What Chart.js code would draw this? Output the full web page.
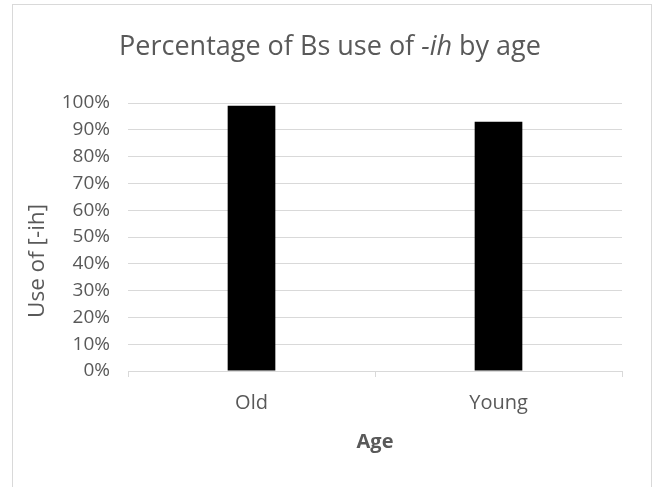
<!DOCTYPE html>
<html>
<head>
<meta charset="utf-8">
<script src="https://cdn.jsdelivr.net/npm/chart.js@4"></script>
<style>
  html, body { margin: 0; padding: 0; background: #fff; }
  #frame { position: absolute; left: 12px; top: 4px; width: 638px; height: 520px; border: 1.5px solid #d9d9d9; }
  #wrap { position: absolute; left: 0; top: 0; width: 652px; height: 487px; }
</style>
</head>
<body>
<div id="frame"></div>
<div id="wrap"><canvas id="main" width="652" height="487"></canvas></div>
<script>
const categories = ['Old', 'Young'];
const useOfIh = [99, 93];
const yTicks = [0, 10, 20, 30, 40, 50, 60, 70, 80, 90, 100];

const grey = '#595959';
const fontName = '"Open Sans", sans-serif';

// title with italic "-ih" and the rotated y title, drawn on the canvas
const textBits = {
  id: 'textBits',
  afterDraw(chart) {
    const ctx = chart.ctx;
    ctx.save();
    ctx.fillStyle = grey;
    ctx.textBaseline = 'alphabetic';
    const parts = [
      ['Percentage of Bs use of ', 'normal'],
      ['-ih', 'italic'],
      [' by age', 'normal']
    ];
    let total = 0;
    parts.forEach(p => {
      ctx.font = p[1] + ' 27px ' + fontName;
      total += ctx.measureText(p[0]).width;
    });
    let x = 330 - total / 2;
    parts.forEach(p => {
      ctx.font = p[1] + ' 27px ' + fontName;
      ctx.fillText(p[0], x, 55);
      x += ctx.measureText(p[0]).width;
    });

    ctx.translate(38, 261);
    ctx.rotate(-Math.PI / 2);
    ctx.font = '22.5px ' + fontName;
    ctx.textAlign = 'center';
    ctx.textBaseline = 'middle';
    ctx.fillText('Use of [-ih]', 0, 0);
    ctx.restore();
  }
};

new Chart(document.getElementById('main'), {
  type: 'bar',
  data: {
    labels: categories,
    datasets: [{
      label: 'Use of [-ih]',
      data: useOfIh,
      backgroundColor: '#000000',
      borderWidth: 0,
      categoryPercentage: 1,
      barPercentage: 0.193
    }]
  },
  options: {
    responsive: false,
    animation: false,
    layout: { padding: { left: 0, right: 30, top: 103, bottom: 0 } },
    plugins: {
      legend: { display: false },
      title: { display: false },
      tooltip: { enabled: false }
    },
    scales: {
      x: {
        offset: true,
        grid: {
          offset: true,
          drawOnChartArea: false,
          drawTicks: true,
          tickLength: 6,
          color: '#d9d9d9'
        },
        border: { color: '#d9d9d9', width: 1 },
        ticks: { color: grey, font: { family: fontName, size: 20 }, padding: 14 },
        title: {
          display: true,
          text: 'Age',
          color: grey,
          font: { family: fontName, size: 20, weight: 'bold' },
          padding: { top: 0, bottom: 33 }
        },
        afterFit(scale) { scale.height = 116; }
      },
      y: {
        min: 0,
        max: 100,
        afterBuildTicks(scale) { scale.ticks = yTicks.map(v => ({ value: v })); },
        grid: { color: '#d9d9d9', drawTicks: false, lineWidth: 1 },
        border: { display: false },
        ticks: {
          color: grey,
          font: { family: fontName, size: 19 },
          padding: 18,
          callback: v => v + '%'
        },
        afterFit(scale) { scale.width = 128; }
      }
    }
  },
  plugins: [textBits]
});
</script>
</body>
</html>
